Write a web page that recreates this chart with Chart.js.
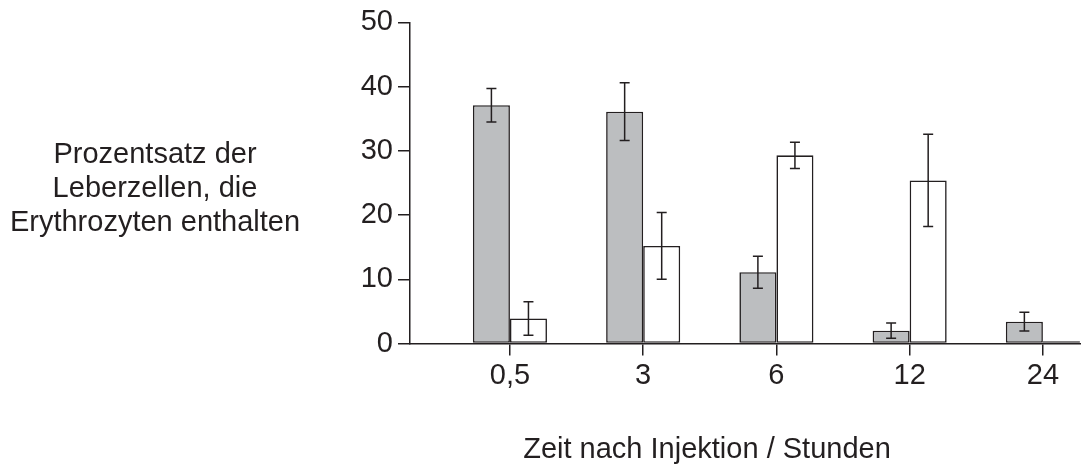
<!DOCTYPE html>
<html>
<head>
<meta charset="utf-8">
<script src="https://cdn.jsdelivr.net/npm/chart.js@4/dist/chart.umd.min.js"></script>
<style>
    html, body { margin: 0; padding: 0; background: #fff; overflow: hidden; }
    #wrap { width: 1081px; height: 464px; }
</style>
</head>
<body>
<div id="wrap"><canvas id="canvas" width="1081" height="464"></canvas></div>
<script>
const CATEGORIES = ["0,5", "3", "6", "12", "24"];
const GRAY_VALUES = [37.1, 36.1, 11.1, 2.0, 3.4];
const GRAY_ERRORS = [2.6, 4.5, 2.5, 1.2, 1.45];
const WHITE_VALUES = [3.9, 15.2, 29.3, 25.4, 0.35];
const WHITE_ERRORS = [2.6, 5.2, 2.05, 7.2, null];
const Y_TICKS = [0, 10, 20, 30, 40, 50];

const Y_TITLE = ["Prozentsatz der", "Leberzellen, die", "Erythrozyten enthalten"];
const X_TITLE = "Zeit nach Injektion / Stunden";

var INK = '#231f20';
var FONT = '"Liberation Sans", Arial, sans-serif';

function toPoints(values) {
    return values.map(function (v, i) { return { x: i, y: v }; });
}

// error bars drawn on top of the bars
var errorBars = {
    id: 'errorBars',
    afterDatasetsDraw: function (chart) {
        var ctx = chart.ctx;
        var y = chart.scales.y;
        var errs = [GRAY_ERRORS, WHITE_ERRORS];
        ctx.save();
        ctx.strokeStyle = INK;
        ctx.lineWidth = 1.5;
        chart.data.datasets.forEach(function (ds, d) {
            var meta = chart.getDatasetMeta(d);
            meta.data.forEach(function (bar, i) {
                var e = errs[d][i];
                if (e === null) return;
                var v = ds.data[i].y;
                var top = y.getPixelForValue(v + e);
                var bot = y.getPixelForValue(v - e);
                ctx.beginPath();
                ctx.moveTo(bar.x, top); ctx.lineTo(bar.x, bot);
                ctx.moveTo(bar.x - 5, top); ctx.lineTo(bar.x + 5, top);
                ctx.moveTo(bar.x - 5, bot); ctx.lineTo(bar.x + 5, bot);
                ctx.stroke();
            });
        });
        ctx.restore();
    }
};

var titles = {
    id: 'titles',
    afterDraw: function (chart) {
        var ctx = chart.ctx;
        ctx.save();
        ctx.fillStyle = INK;
        ctx.font = '29px ' + FONT;
        ctx.textAlign = 'center';
        ctx.textBaseline = 'alphabetic';
        Y_TITLE.forEach(function (line, i) {
            ctx.fillText(line, 155, 163 + i * 34);
        });
        ctx.fillText(X_TITLE, 707, 458);
        ctx.restore();
    }
};

var data = {
    datasets: [{
        label: 'grau',
        data: toPoints(GRAY_VALUES),
        backgroundColor: '#bcbec0',
        borderColor: INK,
        borderWidth: 1.6,
        borderSkipped: false
    }, {
        label: 'weiss',
        data: toPoints(WHITE_VALUES),
        backgroundColor: '#ffffff',
        borderColor: INK,
        borderWidth: 1.6,
        borderSkipped: false
    }]
};

var options = {
    responsive: false,
    animation: false,
    layout: { padding: { top: 20, left: 0, right: 0, bottom: 0 } },
    categoryPercentage: 0.556,
    barPercentage: 1,
    plugins: {
        legend: { display: false },
        tooltip: { enabled: false }
    },
    scales: {
        x: {
            type: 'linear',
            offset: false,
            min: -0.75,
            max: 4.286,
            afterBuildTicks: function (scale) {
                scale.ticks = CATEGORIES.map(function (c, i) { return { value: i }; });
            },
            afterFit: function (scale) { scale.height = 120.5; },
            grid: { offset: false, drawOnChartArea: false, drawTicks: true, tickLength: 12, color: INK, lineWidth: 1.5 },
            border: { color: INK, width: 1.5 },
            ticks: {
                color: INK,
                font: { size: 29, family: FONT },
                padding: 3,
                maxRotation: 0,
                callback: function (value) { return CATEGORIES[value]; }
            }
        },
        y: {
            min: 0,
            max: 50,
            afterBuildTicks: function (scale) {
                scale.ticks = Y_TICKS.map(function (v) { return { value: v }; });
            },
            afterFit: function (scale) { scale.width = 410; },
            grid: { drawOnChartArea: false, drawTicks: true, tickLength: 12, color: INK, lineWidth: 1.5 },
            border: { color: INK, width: 1.5 },
            ticks: {
                color: INK,
                font: { size: 29, family: FONT },
                padding: 5
            }
        }
    }
};

var ctx = document.getElementById('canvas').getContext('2d');
var barChart = new Chart(ctx, {
    type: 'bar',
    data: data,
    options: options,
    plugins: [errorBars, titles]
});
</script>
</body>
</html>
